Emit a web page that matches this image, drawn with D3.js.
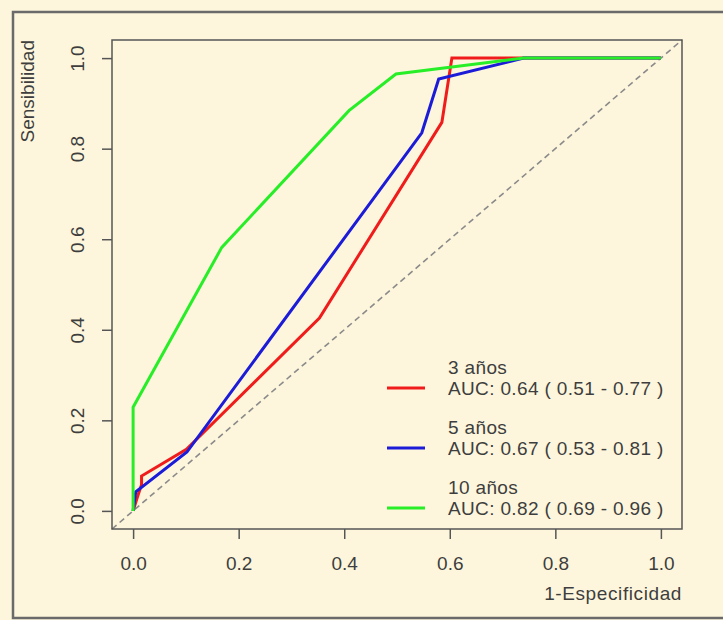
<!DOCTYPE html>
<html>
<head>
<meta charset="utf-8">
<script src="https://cdn.jsdelivr.net/npm/d3@7"></script>
<style>
  body { margin: 0; background: #fdf6dc; }
  text { font-family: "Liberation Sans", Arial, sans-serif; fill: #3e3e3e; }
</style>
</head>
<body>
<div id="chart"></div>
<script>
// ROC points: [1-especificidad, sensibilidad]
var roc3 = [[0, 0], [0.008, 0.03], [0.016, 0.058], [0.016, 0.077], [0.101, 0.136],
            [0.353, 0.426], [0.585, 0.858], [0.604, 1.0], [1, 1]];
var roc5 = [[0, 0], [0.005, 0.042], [0.102, 0.13], [0.547, 0.835], [0.579, 0.954],
            [0.74, 1.0], [1, 1]];
var roc10 = [[0, 0], [0, 0.229], [0.168, 0.582], [0.409, 0.884], [0.498, 0.965],
             [0.74, 1.0], [1, 1]];

var seriesNames = ["3 años", "5 años", "10 años"];
var seriesAuc = ["AUC: 0.64 ( 0.51 - 0.77 )", "AUC: 0.67 ( 0.53 - 0.81 )", "AUC: 0.82 ( 0.69 - 0.96 )"];
var seriesColors = ["#f01c1c", "#1c1cd8", "#28ee28"];
var ticks = [0, 0.2, 0.4, 0.6, 0.8, 1.0];

var width = 723, height = 620;
var fontSize = 19;

var svg = d3.select("#chart").append("svg")
    .attr("width", width)
    .attr("height", height);

svg.append("rect").attr("width", width).attr("height", height).attr("fill", "#fdf6dc");

// outer frame (right side runs off the picture)
svg.append("rect")
    .attr("x", 13).attr("y", 12)
    .attr("width", 740).attr("height", 606)
    .attr("fill", "none")
    .attr("stroke", "#6a6a6a")
    .attr("stroke-width", 2.5);

var x = d3.scaleLinear().domain([-0.04, 1.04]).range([112, 682]);
var y = d3.scaleLinear().domain([-0.04, 1.04]).range([529, 40]);

// chance diagonal across the whole box
svg.append("line")
    .attr("x1", x(-0.04)).attr("y1", y(-0.04))
    .attr("x2", x(1.04)).attr("y2", y(1.04))
    .attr("stroke", "#8a8a8a")
    .attr("stroke-width", 1.6)
    .attr("stroke-dasharray", "6,4");

var line = d3.line().x(d => x(d[0])).y(d => y(d[1]));

[roc3, roc5, roc10].forEach(function (d, i) {
    svg.append("path")
        .attr("d", line(d))
        .attr("fill", "none")
        .attr("stroke", seriesColors[i])
        .attr("stroke-width", 3)
        .attr("stroke-linejoin", "miter");
});

// plot box
svg.append("rect")
    .attr("x", x.range()[0]).attr("y", y.range()[1])
    .attr("width", x.range()[1] - x.range()[0])
    .attr("height", y.range()[0] - y.range()[1])
    .attr("fill", "none")
    .attr("stroke", "#555")
    .attr("stroke-width", 1.5);

// x axis
var xAxis = d3.axisBottom(x).tickValues(ticks).tickSize(10).tickPadding(18)
    .tickFormat(d3.format(".1f"));
var gx = svg.append("g").attr("transform", "translate(0," + y.range()[0] + ")").call(xAxis);
gx.select(".domain").remove();
gx.selectAll(".tick line").attr("stroke", "#555").attr("stroke-width", 1.5);
gx.selectAll(".tick text").style("font-size", fontSize + "px")
    .style("font-family", "Liberation Sans, Arial, sans-serif").attr("fill", "#3e3e3e");

// y axis, labels rotated like R's las = 0
var yAxis = d3.axisLeft(y).tickValues(ticks).tickSize(10).tickFormat(d3.format(".1f"));
var gy = svg.append("g").attr("transform", "translate(" + x.range()[0] + ",0)").call(yAxis);
gy.select(".domain").remove();
gy.selectAll(".tick line").attr("stroke", "#555").attr("stroke-width", 1.5);
gy.selectAll(".tick text")
    .attr("x", null).attr("dy", null)
    .attr("transform", "translate(-28,0) rotate(-90)")
    .attr("text-anchor", "middle")
    .style("font-size", fontSize + "px")
    .style("font-family", "Liberation Sans, Arial, sans-serif")
    .attr("fill", "#3e3e3e");

// axis titles
svg.append("text")
    .attr("transform", "translate(34," + y.range()[1] + ") rotate(-90)")
    .attr("text-anchor", "end")
    .style("font-size", fontSize + "px")
    .text("Sensibilidad");

svg.append("text")
    .attr("x", x.range()[1]).attr("y", 600)
    .attr("text-anchor", "end")
    .style("font-size", fontSize + "px")
    .style("letter-spacing", "0.6px")
    .text("1-Especificidad");

// legend
var legend = svg.append("g").attr("transform", "translate(387,388)");
seriesNames.forEach(function (name, i) {
    var g = legend.append("g").attr("transform", "translate(0," + (i * 60) + ")");
    g.append("line")
        .attr("x1", 0).attr("x2", 38)
        .attr("y1", 0).attr("y2", 0)
        .attr("stroke", seriesColors[i])
        .attr("stroke-width", 3);
    g.append("text").attr("x", 61).attr("y", -14)
        .style("font-size", fontSize + "px")
        .style("letter-spacing", "0.35px").text(name);
    g.append("text").attr("x", 61).attr("y", 7)
        .style("font-size", fontSize + "px")
        .style("letter-spacing", "0.35px").text(seriesAuc[i]);
});
</script>
</body>
</html>
